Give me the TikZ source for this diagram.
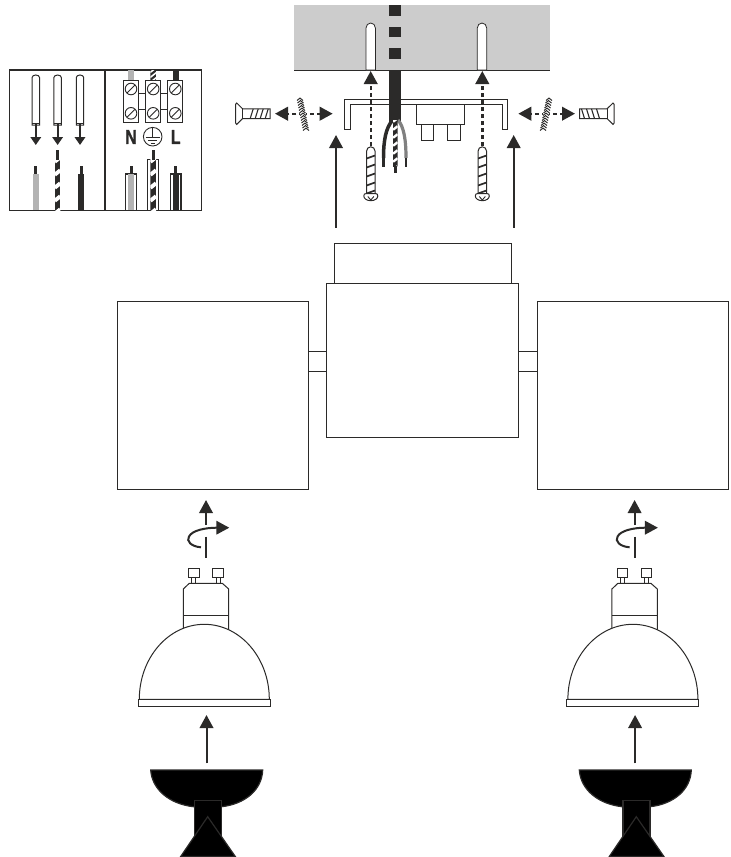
\documentclass[tikz,border=0pt]{standalone}
\usepackage{fontspec}
\newfontfamily\termfont[FakeStretch=0.8,FakeBold=1.2]{Liberation Sans}
\usetikzlibrary{arrows.meta}
\definecolor{wiredark}{HTML}{2B2A29}
\definecolor{wiregrey}{HTML}{B3B3B3}
\definecolor{wallgrey}{HTML}{CCCCCC}
\tikzset{
  outline/.style={draw=wiredark, line width=1pt, fill=white},
  fatarrow/.style={draw=wiredark, line width=2pt, -{Triangle[length=13pt,width=13.5pt]}},
  dasharrow/.style={fatarrow, line width=2.4pt, dash pattern=on 4pt off 3pt},
  smallarrow/.style={draw=wiredark, line width=1.8pt, -{Triangle[length=8pt,width=10.5pt]}},
  termtext/.style={inner sep=0pt, text=wiredark, font=\termfont\bfseries\fontsize{20}{20}\selectfont},
}
% striped earth wire: centre, top, bottom, width, spacing
\newcommand{\stripewire}[5]{
  \begin{scope}
  \clip (#1-#4/2,#2) rectangle (#1+#4/2,#3);
  \fill[wiredark] (#1-#4/2,#2) rectangle (#1+#4/2,#3);
  \foreach \yy in {0,#5,...,60}
    \draw[white, line width=#5*0.3pt] (#1-#4/2,#2+\yy+#4*0.4) -- (#1+#4/2,#2+\yy-#4*0.4);
  \end{scope}
}
% wall screw, local x runs from head to tip
\newcommand{\wallscrew}[3]{
  \begin{scope}[shift={(#1,#2)}, xscale=#3]
  \draw[outline] (0,-9.5) -- (1,-10.7) -- (7,-4.8) -- (34.3,-4.8) -- (34.3,4.8) -- (7,4.8) -- (1,10.7) -- (0,9.5) -- cycle;
  \draw[wiredark, line width=.9pt] (7,-4.8) -- (7,4.8);
  \foreach \xx in {16,21,26,31}
    \draw[wiredark, line width=1.1pt] (\xx+1.5,-4.8) -- (\xx-1.5,4.8);
  \end{scope}
}
% washer seen from the side
\newcommand{\sidewasher}[3]{
  \begin{scope}[shift={(#1,#2)}, xscale=#3]
  \fill[white] (-6,-16) -- (0,-16) -- (6,16) -- (0,16) -- cycle;
  \foreach \yy in {-15,-12.5,...,15}
    \draw[wiredark, line width=1pt] (\yy*0.2-3,\yy+1.2) -- (\yy*0.2,\yy-1.2) -- (\yy*0.2+3,\yy+1.2);
  \end{scope}
}
% wall plug
\newcommand{\wallplug}[1]{
  \begin{scope}[shift={(#1,0)}]
  \draw[outline] (-4.2,194) -- (-4.2,151) arc (180:360:4.2) -- (4.2,194) -- cycle;
  \foreach \yy in {157,166,175,184,192}
    \draw[wiredark, line width=1.7pt] (-4.2,\yy+1.5) -- (4.2,\yy-1.5);
  \draw[outline] (-7,196) arc (180:0:7 and 4.7) .. controls (7,194) and (6,193.7) .. (5,193.7) -- (-5,193.7) .. controls (-6,193.7) and (-7,194) .. (-7,196) -- cycle;
  \draw[wiredark, line width=.9pt] (-3,196.5) -- (0,200) -- (3,196.5);
  \end{scope}
}
% bulb with its twist arrow and reflector
\newcommand{\lampunit}[1]{
  \begin{scope}[shift={(#1,0)}]
  \draw[fatarrow] (206,525) -- (206,500);
  \draw[draw=wiredark, line width=2pt] (206,536.7) -- (206,558.3);
  \draw[fatarrow] (201,547.3) .. controls (191,546.5) and (186,541) .. (189,536.5) .. controls (192,530.5) and (205,527.7) .. (229.3,527.7);
  \foreach \px in {193.7,218} {
    \draw[outline] (\px-5.3,568.3) rectangle (\px+5.3,577.7);
    \draw[outline] (\px-2,577.7) rectangle (\px+2,583.3);
  }
  \draw[outline] (183.3,630) -- (183.3,589) -- (189.3,583.3) -- (222.3,583.3) -- (228.7,589) -- (228.7,630) -- cycle;
  \draw[wiredark, line width=1.4pt] (183.3,615.7) -- (228.7,615.7);
  \draw[outline] (139.3,699.3) arc[start angle=180, end angle=360, x radius=65, y radius=75] -- cycle;
  \draw[outline] (138.3,699.3) rectangle (270.3,706);
  \draw[fatarrow] (206.5,763.3) -- (206.5,715);
  \draw[draw=wiredark, line width=1.2pt, fill=black] (150.7,770) -- (262.7,770) .. controls (262,790) and (245,804) .. (221.7,806.7) -- (193.3,806.7) .. controls (170,804) and (152,790) .. (150.7,770) -- cycle;
  \draw[draw=wiredark, line width=1.2pt, fill=black] (194.3,838) -- (194.3,800.7) -- (221.3,800.7) -- (221.3,838);
  \draw[draw=wiredark, line width=1.2pt, fill=black] (207.7,816.7) -- (235.3,856.5) -- (180.7,856.5) -- cycle;
  \end{scope}
}
\begin{document}
\begin{tikzpicture}[x=1pt, y=-1pt]
\useasboundingbox (0,0) rectangle (731,857);
%
% wiring panel
\draw[wiredark, line width=1.2pt] (9.3,70) rectangle (201.7,210.7);
\draw[wiredark, line width=1.2pt] (105,70) -- (105,210.7);
%
\foreach \wx in {35.8,57.6,80} {
  \draw[outline] (\wx-3.7,125) -- (\wx-3.7,77.5) arc (180:360:3.7 and 2.5) -- (\wx+3.7,125) -- cycle;
  \draw[wiredark, line width=.8pt] (\wx-3.7,123) -- (\wx+3.7,123);
  \draw[smallarrow] (\wx,123) -- (\wx,145);
}
%
\fill[wiregrey] (33.3,174) rectangle (38.7,210);
\fill[wiredark] (34,166) rectangle (37,174);
\stripewire{57.5}{159.5}{210}{5.6}{13}
\fill[wiredark] (56,150) rectangle (59,160);
\fill[wiredark] (78,174) rectangle (84,210);
\fill[wiredark] (79.5,166) rectangle (82.5,174);
%
\fill[wiregrey] (128,70) rectangle (134,80);
\stripewire{153.3}{70}{80}{6}{5}
\fill[wiredark] (172.7,70) rectangle (179,80);
%
\draw[wiredark, line width=1pt] (138.7,93.3) -- (167.7,93.3) (138.7,109) -- (167.7,109);
\foreach \tx in {131,153.2,175.3} {
  \draw[outline] (\tx-7.6,80) rectangle (\tx+7.6,122.7);
  \foreach \ty in {89,113.3} {
    \draw[wiredark, line width=.9pt] (\tx,\ty) circle (5.8);
    \draw[wiredark, line width=.9pt] (\tx-3.8,\ty+3.8) -- (\tx+3.8,\ty-3.8);
  }
}
\node[termtext] (ntext) at (131,137) {N};
\node[termtext] (ltext) at (175.7,137) {L};
\draw[wiredark, line width=.9pt] (152.7,136.7) circle (9.3);
\draw[wiredark, line width=.9pt] (152.7,127.4) -- (152.7,137) (145.7,137) -- (159.7,137) (148.2,140) -- (157.2,140) (150.7,143) -- (154.7,143);
%
\draw[wiredark, line width=1.1pt] (125.7,210.7) -- (125.7,174) -- (136.7,174) -- (136.7,210.7);
\fill[wiregrey] (128,174) rectangle (134,210);
\fill[wiredark] (129.5,166) rectangle (132.5,174);
\draw[wiredark, line width=1.1pt] (147.7,210.7) -- (147.7,159.5) -- (158.7,159.5) -- (158.7,210.7);
\stripewire{153.2}{159.5}{210}{5.6}{13}
\fill[wiredark] (151.7,150) rectangle (154.7,160);
\draw[wiredark, line width=1.1pt] (170.3,210.7) -- (170.3,174) -- (181,174) -- (181,210.7);
\fill[wiredark] (172.7,174) rectangle (178.7,210);
\fill[wiredark] (174.2,166) rectangle (177.2,174);
%
% ceiling
\fill[wallgrey] (294,5) rectangle (550,70);
\draw[wiredark, line width=1pt] (294,70) -- (550,70);
\foreach \qy in {5,26.5,47.7}
  \fill[wiredark] (389.3,\qy) rectangle (400.7,\qy+10.8);
\foreach \hx in {370.7,482} {
  \draw[wiredark, line width=.8pt, fill=white] (\hx-4.7,70) -- (\hx-4.7,28) arc (180:360:4.7 and 5) -- (\hx+4.7,70) -- cycle;
}
%
% mounting bracket
\draw[outline] (344.3,129.3) -- (344.3,99) -- (507.3,99) -- (507.3,129.3) -- (502,129.3) -- (502,104.3) -- (350.7,104.3) -- (350.7,129.3) -- cycle;
\draw[outline] (416,104.3) rectangle (464.3,124.3);
\draw[outline] (421.3,124.3) rectangle (433.3,140);
\draw[outline] (447.7,124.3) rectangle (460,140);
%
% mains cable
\fill[wiredark] (389.3,70) rectangle (400.7,122);
\draw[wiredark, line width=3.5pt] (392,121) .. controls (386,128) and (383.5,140) .. (383.5,158);
\draw[gray, line width=3.2pt] (398,120) .. controls (404,127) and (406,140) .. (406,158);
\stripewire{395.3}{120}{167}{4.4}{8}
\fill[wiredark] (382.2,158) rectangle (384.8,166.7);
\fill[wiredark] (393.9,166) rectangle (396.7,173.3);
\fill[wiredark] (404.7,158) rectangle (407.3,166.7);
%
% fixings
\wallplug{370.8}
\wallplug{482.3}
\draw[dasharrow] (370.7,146) -- (370.7,71);
\draw[dasharrow] (482.3,146) -- (482.3,71);
%
\draw[fatarrow] (336,227.7) -- (336,135);
\draw[fatarrow] (513.7,227.7) -- (513.7,135);
%
\wallscrew{235.7}{113.7}{1}
\wallscrew{614}{113.7}{-1}
\draw[dasharrow] (303.3,113.7) -- (275,113.7);
\draw[dasharrow] (303.3,113.7) -- (332.7,113.7);
\draw[dasharrow] (546,113.7) -- (518.3,113.7);
\draw[dasharrow] (546,113.7) -- (575,113.7);
\sidewasher{303}{114.3}{1}
\sidewasher{546}{114.3}{-1}
%
% spot housings
\draw[outline] (334.7,243.3) rectangle (511,283.5);
\draw[outline] (326.7,283.5) rectangle (518.3,437.7);
\draw[outline] (117,301) rectangle (308,489);
\draw[outline] (537.7,301) rectangle (728,489);
\draw[outline] (308,351) rectangle (326.7,371.3);
\draw[outline] (518.3,351) rectangle (537.7,371.3);
%
\lampunit{0}
\lampunit{428.6}
\end{tikzpicture}
\end{document}
